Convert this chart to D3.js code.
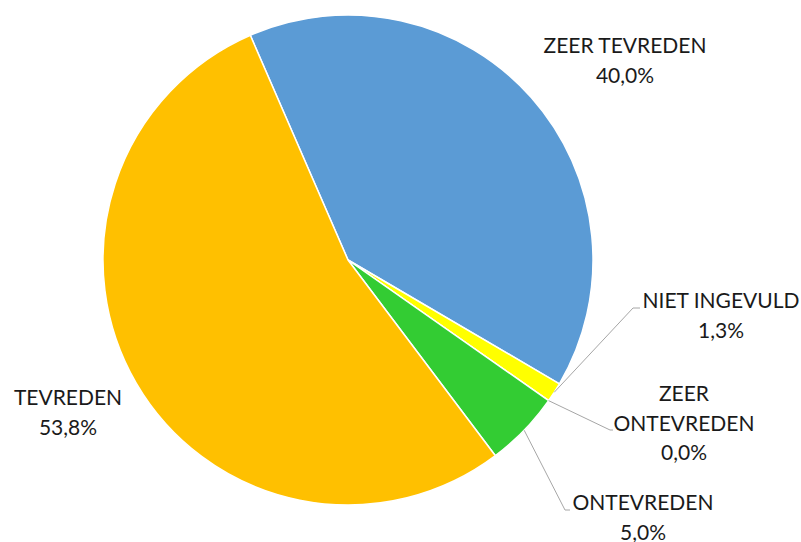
<!DOCTYPE html>
<html>
<head>
<meta charset="utf-8">
<script src="https://cdn.jsdelivr.net/npm/d3@7"></script>
<style>
  html, body { margin: 0; padding: 0; background: #fff; }
  svg text { font-family: Lato, "Open Sans", sans-serif; font-size: 21px; fill: #1a1a1a; }
</style>
</head>
<body>
<svg id="chart" width="801" height="542"></svg>
<script>
// data
const categories = ["ZEER TEVREDEN", "NIET INGEVULD", "ZEER ONTEVREDEN", "ONTEVREDEN", "TEVREDEN"];
const values = [40.0, 1.3, 0.0, 5.0, 53.8];
const valueLabels = ["40,0%", "1,3%", "0,0%", "5,0%", "53,8%"];
const colors = ["#5B9BD5", "#FFFF00", "#A5A5A5", "#33CC33", "#FFC000"];

// label layout: text lines anchored at centre x, first baseline y; leader elbow (if any)
const labelLayout = [
  { x: 625, y: 53, lines: ["ZEER TEVREDEN"] },
  { x: 721, y: 308, lines: ["NIET INGEVULD"], elbow: [633, 308], end: [640, 308] },
  { x: 684, y: 401, lines: ["ZEER", "ONTEVREDEN"], elbow: [610, 430], end: [613, 430] },
  { x: 643, y: 510, lines: ["ONTEVREDEN"], elbow: [565, 510], end: [570, 510] },
  { x: 68, y: 405, lines: ["TEVREDEN"] }
];

const width = 801, height = 542;
const cx = 348, cy = 260, r = 245;
const lineH = 29.5;

const svg = d3.select("#chart");
const g = svg.append("g").attr("transform", `translate(${cx},${cy})`);

const pie = d3.pie()
  .sort(null)
  .value(d => d)
  .startAngle(-23.5 * Math.PI / 180)
  .endAngle((360 - 23.5) * Math.PI / 180);

const arcs = pie(values);
const arc = d3.arc().innerRadius(0).outerRadius(r);
const edge = d3.arc().innerRadius(r).outerRadius(r);

g.selectAll("path.slice")
  .data(arcs)
  .join("path")
  .attr("class", "slice")
  .attr("d", arc)
  .attr("fill", (d, i) => colors[i])
  .attr("stroke", "#fff")
  .attr("stroke-width", 1.5)
  .attr("stroke-linejoin", "round");

// leader lines
arcs.forEach((a, i) => {
  const L = labelLayout[i];
  if (!L.elbow) return;
  const [sx, sy] = edge.centroid(a);
  svg.append("polyline")
    .attr("points", [[sx + cx, sy + cy], L.elbow, L.end].map(p => p.join(",")).join(" "))
    .attr("fill", "none")
    .attr("stroke", "#A6A6A6")
    .attr("stroke-width", 1);
});

// labels
labelLayout.forEach((L, i) => {
  const t = svg.append("text").attr("text-anchor", "middle");
  const all = L.lines.concat([valueLabels[i]]);
  all.forEach((s, k) => {
    t.append("tspan").attr("x", L.x).attr("y", L.y + k * lineH).text(s);
  });
});
</script>
</body>
</html>
